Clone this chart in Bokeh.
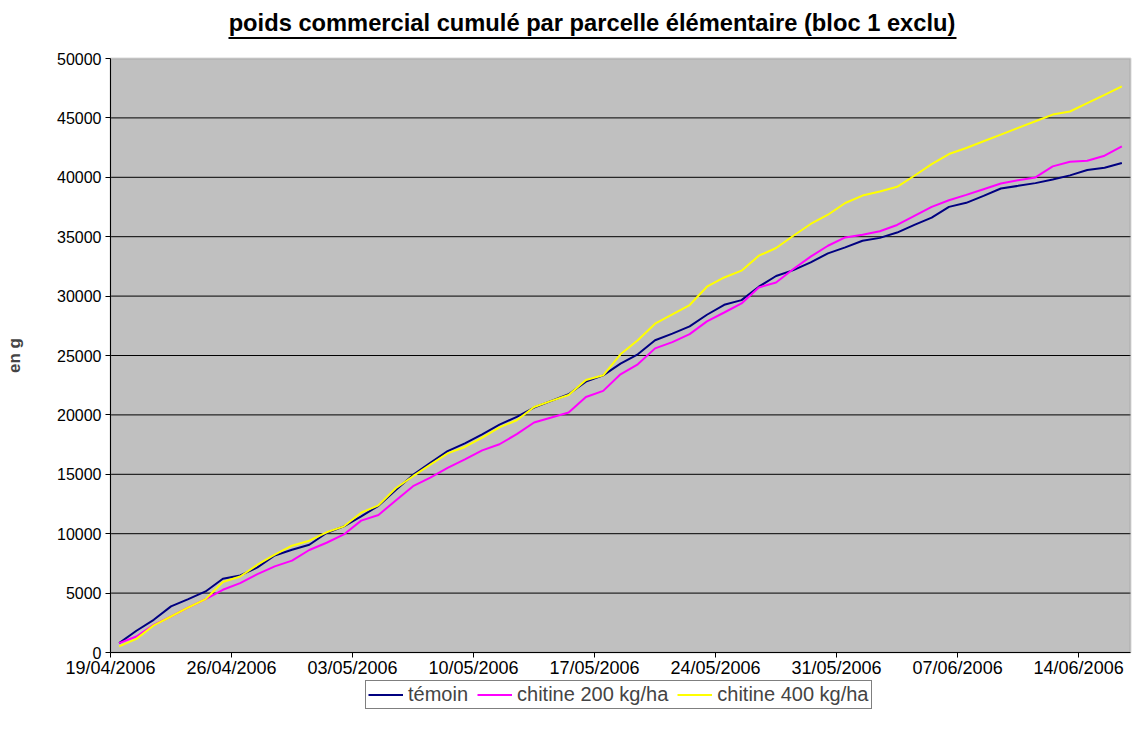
import pandas as pd
from bokeh.plotting import figure
from bokeh.models import (Range1d, FixedTicker, DatetimeTickFormatter, Legend,
                          LegendItem, Label, BoxAnnotation, ColumnDataSource)
from bokeh.embed import file_html
from bokeh.resources import INLINE

# ---------------- data ----------------
start_date = "2006-04-19"
end_date = "2006-06-17"
chart_title = "poids commercial cumulé par parcelle élémentaire (bloc 1 exclu)"
tick_labels = ["19/04/2006", "26/04/2006", "03/05/2006", "10/05/2006", "17/05/2006",
               "24/05/2006", "31/05/2006", "07/06/2006", "14/06/2006"]
y_ticks = [0, 5000, 10000, 15000, 20000, 25000, 30000, 35000, 40000, 45000, 50000]
series_names = ["témoin", "chitine 200 kg/ha", "chitine 400 kg/ha"]
temoin = [790, 1830, 2750, 3880, 4490, 5140, 6210, 6490, 7160, 8170,
          8650, 9070, 10060, 10620, 11460, 12350, 13670, 14950, 15960, 16950,
          17600, 18370, 19180, 19830, 20620, 21180, 21740, 22800, 23330, 24310,
          25100, 26280, 26840, 27450, 28430, 29270, 29660, 30790, 31690, 32190,
          32840, 33600, 34100, 34660, 34900, 35350, 35990, 36610, 37510, 37850,
          38440, 39060, 39280, 39510, 39820, 40160, 40610, 40800, 41200]
chitine200 = [790, 1350, 2330, 3030, 3790, 4490, 5280, 5840, 6600, 7250,
              7730, 8630, 9240, 9940, 11100, 11580, 12790, 14000, 14720, 15540,
              16250, 17010, 17530, 18380, 19360, 19780, 20200, 21510, 22020, 23420,
              24260, 25600, 26130, 26800, 27870, 28620, 29380, 30730, 31150, 32280,
              33320, 34240, 34940, 35170, 35460, 35990, 36750, 37510, 38070, 38520,
              39000, 39480, 39760, 39990, 40920, 41310, 41390, 41820, 42610]
chitine400 = [510, 1150, 2280, 3030, 3790, 4490, 5930, 6400, 7390, 8230,
              8990, 9410, 10120, 10620, 11770, 12390, 13830, 14840, 15820, 16760,
              17300, 18080, 18950, 19550, 20670, 21180, 21680, 22940, 23330, 25100,
              26280, 27680, 28460, 29250, 30790, 31570, 32140, 33400, 34050, 35080,
              36070, 36850, 37840, 38460, 38800, 39200, 40130, 41110, 41960, 42470,
              43030, 43590, 44160, 44720, 45280, 45540, 46240, 46940, 47650]
colors = ["#000080", "#FF00FF", "#FFFF00"]

# ---------------- layout (pixels) ----------------
FONT = "Liberation Sans"
PLOT_LEFT, PLOT_RIGHT = 110, 1130   # screen columns of the plot area
PLOT_TOP, PLOT_BOTTOM = 58, 652     # screen rows of 50000 and 0
FRAME_LEFT, FRAME_RIGHT = 2, 1134   # frame extended to host axes labels
FRAME_TOP, FRAME_BOTTOM = 10, 715   # frame extended to host title & legend
YMAX = y_ticks[-1]
ypp = YMAX / (PLOT_BOTTOM - PLOT_TOP)          # data units per pixel (y)

t0 = pd.Timestamp(start_date)
t1 = pd.Timestamp(end_date)
ms0 = t0.value // 10**6
ms1 = t1.value // 10**6
xpp = (ms1 - ms0) / (PLOT_RIGHT - PLOT_LEFT)   # ms per pixel (x)


def y_at(row):
    return (PLOT_BOTTOM - row) * ypp


def x_at(col):
    return ms0 + (col - PLOT_LEFT) * xpp


dates = pd.date_range(start_date, periods=len(temoin), freq="D") + pd.Timedelta(hours=12)
src = ColumnDataSource(dict(date=dates, t=temoin, c2=chitine200, c4=chitine400))

p = figure(output_backend="svg", toolbar_location=None, title_location=None,
           x_axis_type="datetime",
           frame_width=FRAME_RIGHT - FRAME_LEFT, frame_height=FRAME_BOTTOM - FRAME_TOP,
           min_border_left=FRAME_LEFT, min_border_right=2,
           min_border_top=FRAME_TOP, min_border_bottom=5,
           x_range=Range1d(x_at(FRAME_LEFT), x_at(FRAME_RIGHT)),
           y_range=Range1d(y_at(FRAME_BOTTOM), y_at(FRAME_TOP)),
           background_fill_color="white", border_fill_color="white")
p.outline_line_color = None

# plot area background + border
p.add_layout(BoxAnnotation(left=ms0, right=ms1, bottom=0, top=YMAX,
                           fill_color="#C0C0C0", fill_alpha=1, line_color=None,
                           level="image"))
p.add_layout(BoxAnnotation(left=ms0, right=ms1, bottom=0, top=YMAX,
                           fill_color=None, line_color="#808080", line_width=2,
                           level="underlay"))
# horizontal grid lines limited to the plot area
p.segment(x0=ms0, x1=ms1, y0=y_ticks[1:-1], y1=y_ticks[1:-1],
          line_color="black", line_width=1, level="underlay")

# title + underline
p.add_layout(Label(x=x_at(591.5), y=y_at(35.5), text=chart_title,
                   text_align="center", text_baseline="bottom",
                   text_font=FONT, text_font_size="23.7px", text_font_style="bold",
                   text_color="black"))
p.add_layout(BoxAnnotation(left=x_at(228), right=x_at(956), top=y_at(36.5), bottom=y_at(38.5),
                           fill_color="black", fill_alpha=1, line_color=None))

xax = p.below[0]
yax = p.left[0]

tick_ms = [int(pd.to_datetime(t, format="%d/%m/%Y").value // 10**6) for t in tick_labels]
xax.ticker = FixedTicker(ticks=tick_ms)
xax.formatter = DatetimeTickFormatter(days="%d/%m/%Y", months="%d/%m/%Y",
                                      years="%d/%m/%Y", hours="%d/%m/%Y",
                                      context=None)
xax.fixed_location = 0
xax.bounds = (ms0, ms1)
yax.ticker = FixedTicker(ticks=y_ticks)
yax.fixed_location = ms0
yax.bounds = (0, YMAX)

for ax in (xax, yax):
    ax.axis_line_color = "black"
    ax.axis_line_width = 1
    ax.major_tick_line_color = "black"
    ax.major_tick_in = 0
    ax.major_tick_out = 5
    ax.minor_tick_line_color = None
    ax.major_label_text_font = FONT
    ax.major_label_text_color = "black"
xax.major_label_text_font_size = "18px"
xax.axis_label = None
xax.major_label_standoff = 0
yax.major_label_text_font_size = "16px"
yax.major_label_standoff = 4
yax.axis_label = "en g"
yax.axis_label_text_font = FONT
yax.axis_label_text_font_size = "17px"
yax.axis_label_text_font_style = "bold"
yax.axis_label_standoff = 30

p.xgrid.grid_line_color = None
p.ygrid.grid_line_color = None

renderers = []
for key, col in zip(["t", "c2", "c4"], colors):
    r = p.line("date", key, source=src, line_color=col, line_width=2)
    renderers.append(r)

legend = Legend(items=[LegendItem(label=n, renderers=[r]) for n, r in zip(series_names, renderers)],
                orientation="horizontal",
                location=(365 - FRAME_LEFT, FRAME_BOTTOM - 709),
                label_text_font=FONT, label_text_font_size="20px",
                glyph_width=35, glyph_height=19, label_height=19,
                label_standoff=5, spacing=9, padding=2, margin=0,
                border_line_color="black", border_line_width=1,
                background_fill_color="white", background_fill_alpha=1)
p.add_layout(legend, "center")

open("out.html", "w").write(file_html(p, INLINE))
